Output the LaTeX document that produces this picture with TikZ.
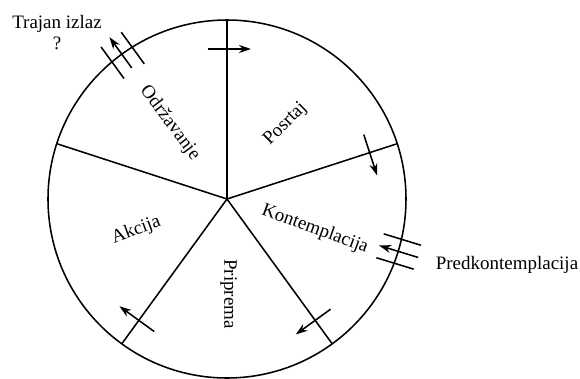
\documentclass[tikz,border=0pt]{standalone}
\usepackage{fontspec}
\setmainfont{Liberation Serif}
\usetikzlibrary{arrows.meta,calc}

\tikzset{
  faza/.style={font=\fontsize{13.5}{16}\selectfont, inner sep=1pt},
  crta/.style={line width=1.1pt},
  strelica/.style={line width=1.1pt, -{Stealth[length=3mm,width=2mm]}},
}

\begin{document}
\begin{tikzpicture}[x=0.025cm, y=0.025cm]
    \useasboundingbox (-227,-179) rectangle (353,199);
    % Krug i sredina
    \coordinate (O) at (0,0);
    \draw[crta] (O) circle (179);
    % Zrake izmedju faza
    \foreach \a/\n in {90/g, 18/d, -54/dd, -126/ld, 162/l}
        \draw[crta] (O) -- (\a:179) coordinate (z\n);
    % Strelice u smjeru kazaljke
    \foreach \a in {90, 18, -54, -126}
        \draw[strelica] ($(\a:150)+(\a+90:19)$) -- ($(\a:150)+(\a-90:24)$);

    % Faze
    \node[faza, rotate=45] (posrtaj) at (52:95) {Posrtaj};
    \node[faza, rotate=-20] (kontemplacija) at (-19:93) {Kontemplacija};
    \node[faza, rotate=-90] (priprema) at (-89:95) {Priprema};
    \node[faza, rotate=20] (akcija) at (199:96) {Akcija};
    \node[faza, rotate=-53] (odrzavanje) at (127:95) {Održavanje};

    % Izlaz iz kruga
    \node[faza] (izlaz) at (-170,175) {Trajan izlaz};
    \node[faza] (upitnik) at (-170,156) {?};
    \draw[crta] ($(126:158)+(36:12.5)$) -- ($(126:197)+(36:12.5)$);
    \draw[crta] ($(126:158)+(216:12.5)$) -- ($(126:197)+(216:12.5)$);
    \draw[strelica] (126:162) -- (126:200);

    % Ulaz u krug
    \node[faza] (predkontemplacija) at (280,-66) {Predkontemplacija};
    \draw[crta] ($(-17:160)+(73:12.5)$) -- ($(-17:199)+(73:12.5)$);
    \draw[crta] ($(-17:160)+(253:12.5)$) -- ($(-17:199)+(253:12.5)$);
    \draw[strelica] (-17:200) -- (-17:159);
\end{tikzpicture}
\end{document}
